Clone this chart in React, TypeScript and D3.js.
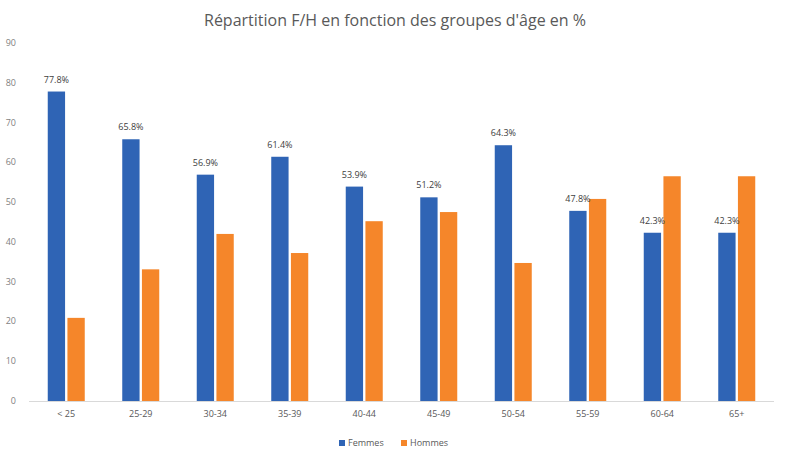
import React from "react";
import * as d3 from "d3";

const categories = ["< 25", "25-29", "30-34", "35-39", "40-44", "45-49", "50-54", "55-59", "60-64", "65+"];
const femmes = [77.8, 65.8, 56.9, 61.4, 53.9, 51.2, 64.3, 47.8, 42.3, 42.3];
const hommes = [20.9, 33.1, 42.0, 37.2, 45.2, 47.5, 34.7, 50.8, 56.5, 56.5];
const yTicks = [0, 10, 20, 30, 40, 50, 60, 70, 80, 90];
const seriesNames = ["Femmes", "Hommes"];
const colors = ["#2f64b5", "#f5862a"];
const title = "Répartition F/H en fonction des groupes d'âge en %";

const W = 793;
const H = 458;
const font = "'Open Sans', 'Liberation Sans', sans-serif";

export default function App() {
  const x = d3.scaleBand<string>().domain(categories).range([29, 774]).paddingInner(0).paddingOuter(0);
  const y = d3.scaleLinear().domain([0, 90]).range([401, 43]);
  const inner = d3.scaleBand<string>().domain(seriesNames).range([-18.5, 18.5]).paddingInner(0.12);
  const cx = (c: string) => (x(c) as number) + x.bandwidth() / 2;
  const bw = inner.bandwidth();
  return (
    <svg width={W} height={H} style={{ position: "absolute", left: 0, top: 0, background: "#fff" }}>
      <text x={395} y={26} textAnchor="middle" fontFamily={font} fontSize={16} fill="#595959">{title}</text>
      {yTicks.map((t) => (
        <text key={t} x={16} y={y(t) + 3} textAnchor="end" fontFamily={font} fontSize={9} fill="#7f7f7f">{t}</text>
      ))}
      <line x1={x.range()[0]} x2={x.range()[1]} y1={y(0) + 0.5} y2={y(0) + 0.5} stroke="#d9d9d9" strokeWidth={1} />
      {categories.map((c, i) => (
        <g key={c}>
          <rect x={cx(c) + (inner("Femmes") as number)} y={y(femmes[i])} width={bw} height={y(0) - y(femmes[i])} fill={colors[0]} />
          <rect x={cx(c) + (inner("Hommes") as number)} y={y(hommes[i])} width={bw} height={y(0) - y(hommes[i])} fill={colors[1]} />
          <text x={cx(c) + (inner("Femmes") as number) + bw / 2} y={y(femmes[i]) - 9} textAnchor="middle" fontFamily={font} fontSize={9} fill="#404040">
            {d3.format(".1f")(femmes[i])}%
          </text>
          <text x={cx(c)} y={417} textAnchor="middle" fontFamily={font} fontSize={9} fill="#595959">{c}</text>
        </g>
      ))}
      <g transform="translate(339,443)">
        <rect x={0} y={-3} width={6} height={6} fill={colors[0]} />
        <text x={9} y={3} fontFamily={font} fontSize={9} fill="#595959">{seriesNames[0]}</text>
        <rect x={62} y={-3} width={6} height={6} fill={colors[1]} />
        <text x={71} y={3} fontFamily={font} fontSize={9} fill="#595959">{seriesNames[1]}</text>
      </g>
    </svg>
  );
}
